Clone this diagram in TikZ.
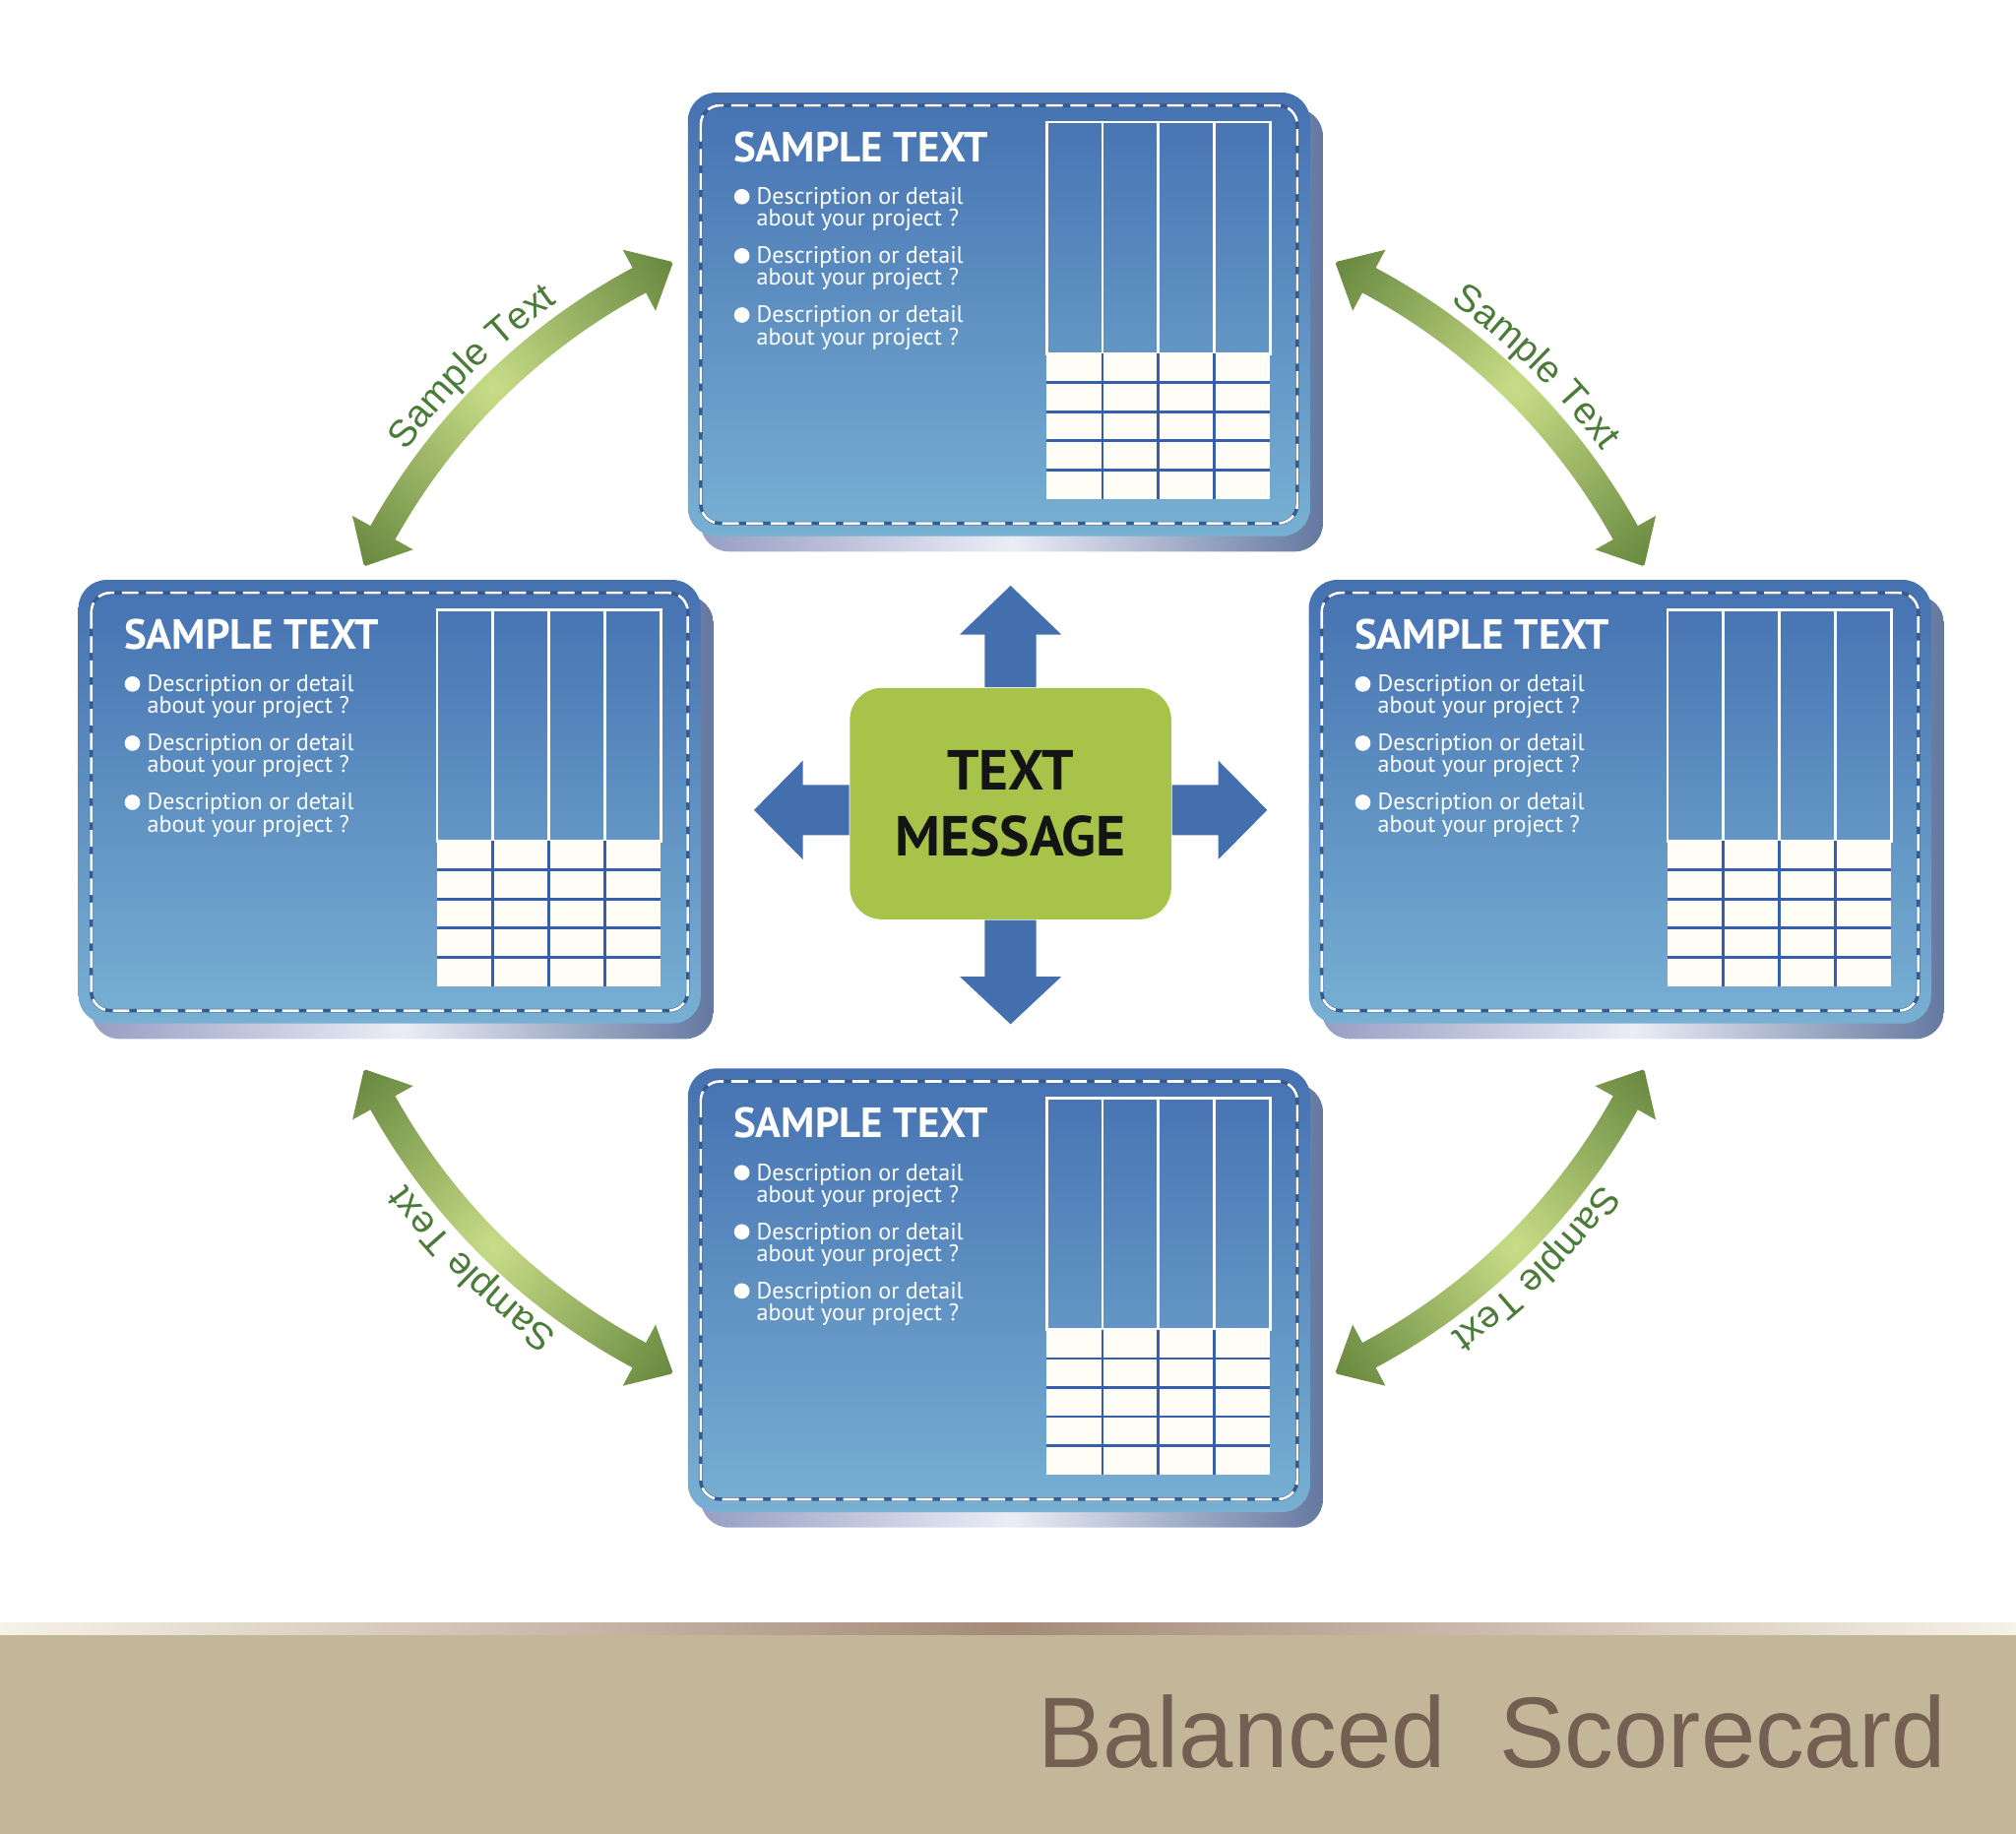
\documentclass[tikz,border=0pt]{standalone}
\usepackage{fontspec}
\setmainfont{PT Sans}
\newfontfamily\libsans{Liberation Sans}
\usetikzlibrary{calc,decorations.text}
\newlength\ux
\setlength\ux{0.01306cm}
\newcommand\arctxt{\libsans\fontsize{11}{13}\selectfont}

\begin{document}
\begin{tikzpicture}[x=\ux,y=-\ux,
  card/.style={rounded corners=22\ux,minimum width=484\ux,minimum height=345\ux,
    inner sep=0pt,top color=cardtop,bottom color=cardbot},
  cardshadow/.style={rounded corners=22\ux,left color=shleft,right color=shright,middle color=shmid},
  stitch/.style={white,line width=0.75pt,dash pattern=on 4.8pt off 2.2pt,rounded corners=15\ux},
  stitchbg/.style={stitchdark,line width=1pt,rounded corners=15\ux},
  ttl/.style={anchor=base west,inner sep=0pt,text=white,font=\fontsize{12.2}{14}\selectfont\bfseries},
  dsc/.style={anchor=base west,inner sep=0pt,text=white,font=\fontsize{6.85}{8}\selectfont},
  colframe/.style={white,line width=0.8pt},
  gridline/.style={gridblue,line width=0.8pt},
  msgbox/.style={fill=msggreen,rounded corners=25\ux,minimum width=250\ux,minimum height=180\ux,
    align=center,text=black!92,font=\fontsize{16.3}{19.3}\selectfont\bfseries},
  barrow/.style={fill=arrblue},
  sub/.style={anchor=base east,inner sep=0pt,text=bsctext,font=\libsans\fontsize{29}{32}\selectfont}]
\definecolor{cardtop}{RGB}{69,113,177}\definecolor{cardbot}{RGB}{120,176,211}
\definecolor{shleft}{RGB}{150,158,195}\definecolor{shmid}{RGB}{235,237,246}\definecolor{shright}{RGB}{100,120,160}
\definecolor{stitchdark}{RGB}{55,90,140}\definecolor{cream}{RGB}{255,253,245}\definecolor{gridblue}{RGB}{52,95,175}
\definecolor{msggreen}{RGB}{167,195,74}\definecolor{arrblue}{RGB}{67,111,175}
\definecolor{arclight}{RGB}{200,221,135}\definecolor{arcdark}{RGB}{105,137,64}\definecolor{arctext}{RGB}{75,123,56}
\definecolor{bandend}{RGB}{246,242,232}\definecolor{bandmid}{RGB}{165,138,120}\definecolor{bandfill}{RGB}{196,182,153}
\definecolor{bsctext}{RGB}{115,96,82}
\useasboundingbox (0,0) rectangle (1568,1426);

% --- bottom band ---
\shade[left color=bandend,right color=bandend,middle color=bandmid] (0,1262) rectangle (1568,1272);
\fill[bandfill] (0,1272) rectangle (1568,1426);
\node[sub] (bsc) at (1514,1375) {\scalebox{0.975}[1]{Balanced\ \ Scorecard}};

% --- the four cards ---
\foreach \cx/\cy/\nm in {535/72/ctop,61/451/cleft,1018/451/cright,535/831/cbot}{
\begin{scope}[shift={(\cx,\cy)}]
  \shade[cardshadow] (10,12) rectangle (494,357);
  \node[card] (\nm) at (242,172.5) {};
  \draw[stitchbg] (10,10) rectangle (474,335);
  \draw[stitch] (10,10) rectangle (474,335);
  \node[ttl] (\nm-t) at (35,54) {SAMPLE TEXT};
  \foreach \i in {0,1,2}{
    \fill[white] (42,{81+46*\i}) circle (6);
    \node[dsc] (\nm-a\i) at (53,{87+46*\i}) {Description or detail};
    \node[dsc] (\nm-b\i) at (53,{104+46*\i}) {about your project ?};
  }
  % table: blue columns on top, cream grid below
  \foreach \k in {0,...,3}
    \draw[colframe] ({279+43.5*\k},23) rectangle ({322.5+43.5*\k},203);
  \fill[cream] (279,203) rectangle (453,316);
  \foreach \r in {1,...,4}
    \draw[gridline] (279,{203+22.6*\r}) -- (453,{203+22.6*\r});
  \foreach \k in {1,2,3}
    \draw[gridline] ({279+43.5*\k},203) -- ({279+43.5*\k},316);
\end{scope}}

% --- curved double arrows between the cards ---
\foreach \cx/\cy/\alo/\ahi in {732/656/209.1/241.8,830/656/298.2/330.9,732/616/118.2/150.9,830/616/29.1/61.8}{
  \begin{scope}
    \clip ($(\cx,\cy)+(\alo:508)$) arc[start angle=\alo,end angle=\ahi,radius=508]
      -- ($(\cx,\cy)+(\ahi:524)$) -- ($(\cx,\cy)+(\ahi:497)+({\ahi+90}:30)$)
      -- ($(\cx,\cy)+(\ahi:470)$) -- ($(\cx,\cy)+(\ahi:486)$)
      arc[start angle=\ahi,end angle=\alo,radius=486]
      -- ($(\cx,\cy)+(\alo:470)$) -- ($(\cx,\cy)+(\alo:497)+({\alo-90}:30)$)
      -- ($(\cx,\cy)+(\alo:524)$) -- cycle;
    \shade[inner color=arclight,outer color=arcdark] ($(\cx,\cy)+({(\alo+\ahi)/2}:497)$) circle (170);
  \end{scope}
  \path[decorate,decoration={text along path,text align=center,text color=arctext,
    text={|\arctxt|Sample Text}}] ($(\cx,\cy)+(\alo:516)$) arc[start angle=\alo,end angle=\ahi,radius=516];
}

% --- centre message and its four arrows ---
\node[msgbox] (msg) at (786,625) {TEXT\\MESSAGE};
\fill[barrow] ($(msg.north)+(-20,0)$) -- ++(0,-41) -- ++(-19.5,0) -- ($(msg.north)+(0,-79)$)
  -- ($(msg.north)+(39.5,-41)$) -- ++(-19.5,0) -- ($(msg.north)+(20,0)$) -- cycle;
\fill[barrow] ($(msg.south)+(-20,0)$) -- ++(0,44) -- ++(-19.5,0) -- ($(msg.south)+(0,81)$)
  -- ($(msg.south)+(39.5,44)$) -- ++(-19.5,0) -- ($(msg.south)+(20,0)$) -- cycle;
\fill[barrow] ($(msg.west)+(0,-14.5)$) -- ++(-36,0) -- ++(0,-19) -- ($(msg.west)+(-74,5)$)
  -- ($(msg.west)+(-36,43.5)$) -- ++(0,-19) -- ($(msg.west)+(0,24.5)$) -- cycle;
\fill[barrow] ($(msg.east)+(0,-14.5)$) -- ++(36,0) -- ++(0,-19) -- ($(msg.east)+(74,5)$)
  -- ($(msg.east)+(36,43.5)$) -- ++(0,-19) -- ($(msg.east)+(0,24.5)$) -- cycle;
\end{tikzpicture}
\end{document}
